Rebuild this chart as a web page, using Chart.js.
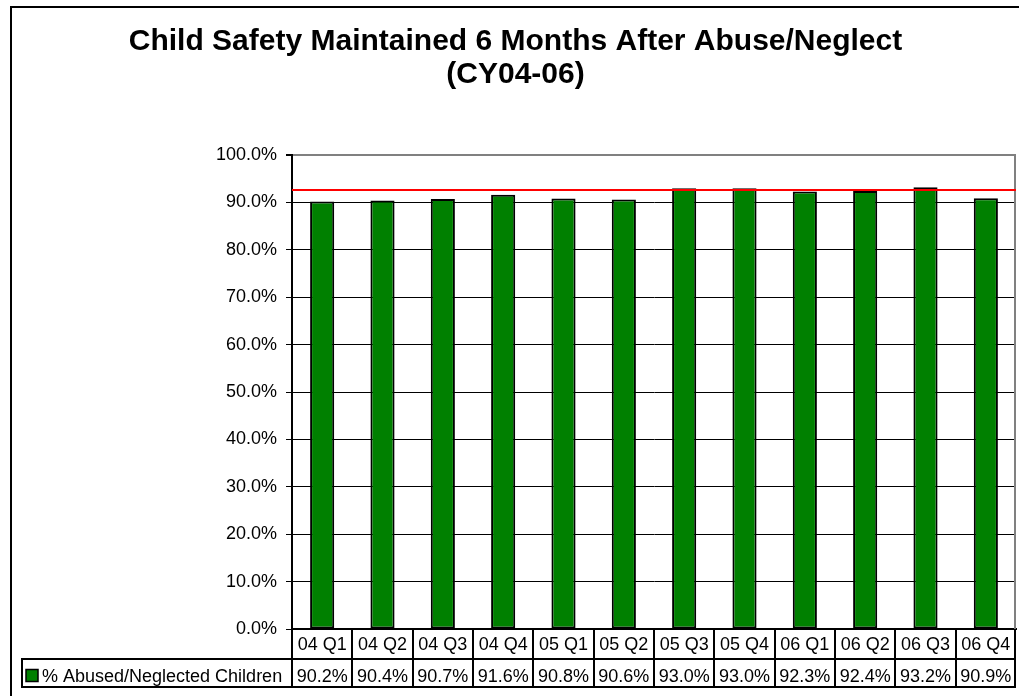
<!DOCTYPE html>
<html>
<head>
<meta charset="utf-8">
<title>Child Safety Maintained 6 Months After Abuse/Neglect</title>
<script src="https://cdn.jsdelivr.net/npm/chart.js@4/dist/chart.umd.min.js"></script>
<style>
  html, body { margin: 0; padding: 0; background: #ffffff; }
  #wrap { width: 1019px; height: 696px; position: relative; }
</style>
</head>
<body>
<div id="wrap"><canvas id="c" width="1019" height="696"></canvas></div>
<script>
// ---- data ----
const TITLE_LINES = ['Child Safety Maintained 6 Months After Abuse/Neglect', '(CY04-06)'];
const CATEGORIES = ['04 Q1', '04 Q2', '04 Q3', '04 Q4', '05 Q1', '05 Q2', '05 Q3', '05 Q4', '06 Q1', '06 Q2', '06 Q3', '06 Q4'];
const SERIES_NAME = '% Abused/Neglected Children';
const VALUES = [90.2, 90.4, 90.7, 91.6, 90.8, 90.6, 93.0, 93.0, 92.3, 92.4, 93.2, 90.9];
const TARGET = [92.6];
const Y_TICKS = [0, 10, 20, 30, 40, 50, 60, 70, 80, 90, 100];

const FONT = '"Liberation Sans", Arial, Helvetica, sans-serif';
const GREEN = '#008000';

const pct = v => v.toFixed(1) + '%';

// Outer frame (left and top edges visible in the original)
const framePlugin = {
  id: 'frame',
  afterDraw(chart) {
    const ctx = chart.ctx;
    ctx.save();
    ctx.strokeStyle = '#000';
    ctx.lineWidth = 2;
    ctx.beginPath();
    ctx.moveTo(11, 696);
    ctx.lineTo(11, 7);
    ctx.lineTo(1019, 7);
    ctx.stroke();
    ctx.restore();
  }
};

// Target line and plot border
const targetPlugin = {
  id: 'targetLine',
  beforeDatasetsDraw(chart) {
    const {ctx, chartArea: a} = chart;
    ctx.save();
    ctx.strokeStyle = '#808080';
    ctx.lineWidth = 2;
    ctx.beginPath();
    ctx.moveTo(a.right - 1, a.top);
    ctx.lineTo(a.right - 1, a.bottom);
    ctx.stroke();
    ctx.restore();
  },
  afterDatasetsDraw(chart) {
    const {ctx, chartArea: a, scales: {y}} = chart;
    ctx.save();
    ctx.strokeStyle = '#ff0000';
    ctx.lineWidth = 2;
    TARGET.forEach(t => {
      const py = Math.round(y.getPixelForValue(t));
      ctx.beginPath();
      ctx.moveTo(a.left, py);
      ctx.lineTo(a.right, py);
      ctx.stroke();
    });
    ctx.restore();
  }
};

// Data table under the plot
const tablePlugin = {
  id: 'dataTable',
  afterDraw(chart) {
    const {ctx, chartArea: a, scales: {x}} = chart;
    const top = a.bottom;
    const mid = 659;
    const bot = 687;
    const legendLeft = 22;
    const n = CATEGORIES.length;
    const bounds = [a.left];
    for (let i = 1; i < n; i++) {
      bounds.push((x.getPixelForValue(i - 1) + x.getPixelForValue(i)) / 2);
    }
    bounds.push(a.right - 1);
    ctx.save();
    ctx.strokeStyle = '#000';
    ctx.lineWidth = 2;
    ctx.beginPath();
    bounds.forEach(b => {
      const bx = Math.round(b);
      ctx.moveTo(bx, top);
      ctx.lineTo(bx, bot + 1);
    });
    ctx.moveTo(legendLeft, mid);
    ctx.lineTo(a.right, mid);
    ctx.moveTo(legendLeft, bot);
    ctx.lineTo(a.right, bot);
    ctx.moveTo(legendLeft, mid - 1);
    ctx.lineTo(legendLeft, bot + 1);
    ctx.stroke();

    // legend key
    ctx.fillStyle = GREEN;
    ctx.fillRect(26, 669.5, 12, 12);
    ctx.lineWidth = 1.5;
    ctx.strokeRect(26, 669.5, 12, 12);

    ctx.fillStyle = '#000';
    ctx.font = '18px ' + FONT;
    ctx.textBaseline = 'alphabetic';
    ctx.textAlign = 'left';
    ctx.fillText(SERIES_NAME, 42, 682);
    ctx.textAlign = 'center';
    VALUES.forEach((v, i) => {
      ctx.fillText(pct(v), x.getPixelForValue(i), 682);
    });
    ctx.restore();
  }
};

new Chart(document.getElementById('c'), {
  type: 'bar',
  data: {
    labels: CATEGORIES,
    datasets: [{
      label: SERIES_NAME,
      data: VALUES,
      backgroundColor: GREEN,
      borderColor: '#000',
      borderWidth: 2,
      borderSkipped: false,
      categoryPercentage: 1.0,
      barPercentage: 0.4
    }]
  },
  options: {
    responsive: false,
    devicePixelRatio: 1,
    animation: false,
    layout: { padding: { top: 0, left: 15, right: 3, bottom: 0 } },
    plugins: {
      legend: { display: false },
      title: {
        display: true,
        text: TITLE_LINES,
        color: '#000',
        font: { family: FONT, size: 30, weight: 'bold', lineHeight: 1.1 },
        padding: { top: 25, bottom: 64 }
      },
      tooltip: { enabled: false }
    },
    scales: {
      x: {
        offset: true,
        grid: { display: false, drawTicks: false },
        border: { display: true, color: '#000', width: 2 },
        ticks: {
          color: '#000',
          font: { family: FONT, size: 18 },
          padding: 5,
          maxRotation: 0,
          autoSkip: false
        },
        afterFit(scale) { scale.height = 67; }
      },
      y: {
        min: 0,
        max: 100,
        afterBuildTicks(scale) { scale.ticks = Y_TICKS.map(v => ({ value: v })); },
        grid: {
          color: c => (c.tick && c.tick.value === 100) ? '#808080' : '#000',
          lineWidth: c => (c.tick && c.tick.value === 100) ? 2 : 1,
          tickColor: '#000',
          tickLength: 6,
          drawTicks: true
        },
        border: { display: true, color: '#000', width: 2 },
        ticks: {
          color: '#000',
          font: { family: FONT, size: 18 },
          padding: 9,
          callback: v => pct(v)
        },
        afterFit(scale) { scale.width = 277; }
      }
    }
  },
  plugins: [framePlugin, targetPlugin, tablePlugin]
});
</script>
</body>
</html>
